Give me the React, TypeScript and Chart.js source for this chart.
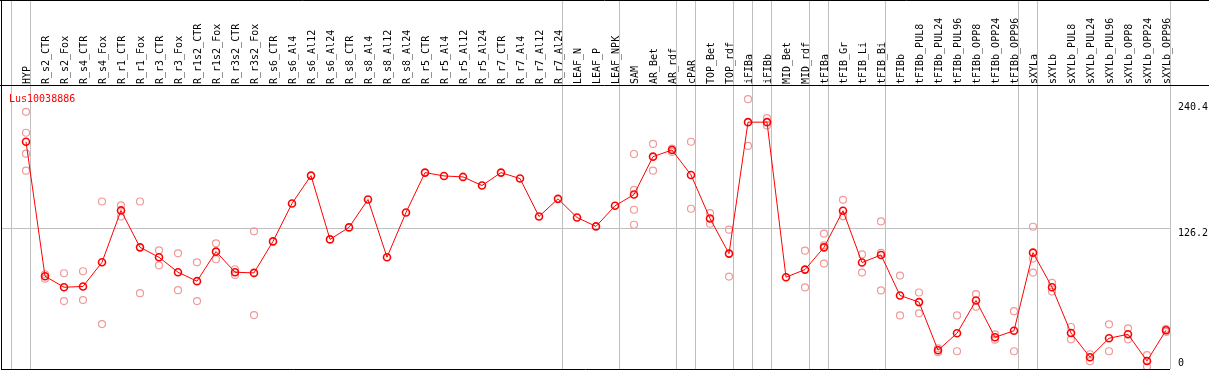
import React, { useEffect, useRef } from 'react';
import { Chart, registerables } from 'chart.js';

Chart.register(...registerables);

const geneName = 'Lus10038886';

const categories = [
  'HYP', 'R_s2_CTR', 'R_s2_Fox', 'R_s4_CTR', 'R_s4_Fox', 'R_r1_CTR', 'R_r1_Fox', 'R_r3_CTR', 'R_r3_Fox',
  'R_r1s2_CTR', 'R_r1s2_Fox', 'R_r3s2_CTR', 'R_r3s2_Fox', 'R_s6_CTR', 'R_s6_Al4', 'R_s6_Al12', 'R_s6_Al24',
  'R_s8_CTR', 'R_s8_Al4', 'R_s8_Al12', 'R_s8_Al24', 'R_r5_CTR', 'R_r5_Al4', 'R_r5_Al12', 'R_r5_Al24',
  'R_r7_CTR', 'R_r7_Al4', 'R_r7_Al12', 'R_r7_Al24', 'LEAF_N', 'LEAF_P', 'LEAF_NPK', 'SAM', 'AR_Bet', 'AR_rdf',
  'cPAR', 'TOP_Bet', 'TOP_rdf', 'iFIBa', 'iFIBb', 'MID_Bet', 'MID_rdf', 'tFIBa', 'tFIB_Gr', 'tFIB_Li', 'tFIB_Bi',
  'tFIBb', 'tFIBb_PUL8', 'tFIBb_PUL24', 'tFIBb_PUL96', 'tFIBb_OPP8', 'tFIBb_OPP24', 'tFIBb_OPP96',
  'sXYLa', 'sXYLb', 'sXYLb_PUL8', 'sXYLb_PUL24', 'sXYLb_PUL96', 'sXYLb_OPP8', 'sXYLb_OPP24', 'sXYLb_OPP96',
];

const meanValues = [
  205.2, 83.2, 73.2, 73.9, 95.8, 142.9, 109.4, 100.4, 86.8,
  78.7, 105.5, 86.8, 86.2, 114.8, 149.2, 174.5, 116.6,
  127.5, 152.8, 100.4, 141.0, 177.2, 174.2, 173.3, 165.5,
  177.2, 171.8, 137.4, 153.4, 136.5, 128.4, 147.1, 157.3, 191.7, 197.7,
  175.1, 135.6, 103.7, 223.0, 223.0, 82.3, 89.2, 109.4, 142.6, 95.6, 102.5,
  65.7, 59.7, 16.0, 31.4, 61.2, 27.8, 33.7,
  104.6, 73.2, 31.6, 9.7, 26.9, 30.5, 6.3, 34.1,
];

const replicateValues: number[][] = [
  [232.4, 213.4, 194.4, 179.0], [85.0, 81.0], [85.9, 60.6], [87.7, 61.5], [151.0, 39.8], [147.4, 137.4],
  [151.0, 67.8], [106.7, 93.1], [104.0, 70.5], [95.8, 60.6], [113.0, 98.6], [89.5, 84.4], [123.9, 47.9],
  [], [], [], [], [], [], [], [], [], [], [], [], [], [], [], [], [], [], [],
  [194.1, 161.6, 143.5, 129.9], [203.2, 179.0], [199.0, 196.0], [205.2, 144.4], [140.4, 130.8],
  [125.4, 82.9], [243.8, 201.4], [226.7, 220.0], [], [106.4, 73.0], [121.8, 111.2, 94.7],
  [152.5, 137.5, 137.8], [103.0, 86.5], [132.9, 104.3, 70.3], [83.8, 47.6], [68.4, 49.5], [17.8, 14.2],
  [47.6, 15.1], [66.9, 55.4], [30.5, 25.6], [51.5, 15.1], [128.1, 99.2, 86.5], [77.1, 69.3], [37.1, 25.9],
  [12.4, 6.1], [39.5, 15.1], [35.9, 25.9], [11.5, 1.2], [35.5, 32.7],
];

const yTickValues = [0, 126.2, 240.4];

// category index after which a group separator line is drawn
const groupEnds = [-1, 0, 28, 31, 34, 35, 37, 38, 39, 41, 42, 45, 52, 53, 60];

const FONT = 'DejaVu Sans Mono';
const W = 1209;
const H = 370;
const PLOT_RIGHT = 1170;
const STEP = 19;
const FIRST_X = 26;
const X_MIN = (1 - FIRST_X) / STEP;
const X_MAX = X_MIN + (PLOT_RIGHT - 1) / STEP;
const SEP_OFFSET = 4 / STEP;

const zeroPadding = (scale: any) => {
  scale.paddingLeft = 0;
  scale.paddingRight = 0;
  scale.paddingTop = 0;
  scale.paddingBottom = 0;
  if (scale._margins) {
    scale._margins.left = 0;
    scale._margins.right = 0;
    scale._margins.top = 0;
    scale._margins.bottom = 0;
  }
};

const framePlugin = {
  id: 'frame',
  beforeDatasetsDraw(chart: any) {
    const { ctx, chartArea, scales } = chart;
    ctx.save();
    ctx.strokeStyle = '#c0c0c0';
    ctx.lineWidth = 1;
    groupEnds.forEach((g) => {
      const px = Math.floor(scales.x.getPixelForValue(g + SEP_OFFSET)) + 0.5;
      ctx.beginPath();
      ctx.moveTo(px, 0);
      ctx.lineTo(px, chartArea.bottom);
      ctx.stroke();
    });
    ctx.restore();
  },
  afterDraw(chart: any) {
    const { ctx, chartArea } = chart;
    ctx.save();
    ctx.strokeStyle = '#000';
    ctx.lineWidth = 1;
    ctx.beginPath();
    ctx.moveTo(0, 0.5);
    ctx.lineTo(W, 0.5);
    ctx.moveTo(0, chartArea.top - 0.5);
    ctx.lineTo(W, chartArea.top - 0.5);
    ctx.moveTo(1.5, 0);
    ctx.lineTo(1.5, chartArea.bottom + 1);
    ctx.moveTo(1, chartArea.bottom + 0.5);
    ctx.lineTo(chartArea.right, chartArea.bottom + 0.5);
    ctx.stroke();
    ctx.fillStyle = '#ff0000';
    ctx.font = `10px "${FONT}"`;
    ctx.textBaseline = 'alphabetic';
    ctx.textAlign = 'left';
    ctx.fillText(geneName, chartArea.left + 8, chartArea.top + 16);
    ctx.restore();
  },
};

export default function App() {
  const ref = useRef<HTMLCanvasElement | null>(null);

  useEffect(() => {
    if (!ref.current) return;
    const meanData = meanValues.map((v, i) => ({ x: i, y: v }));
    const repData: { x: number; y: number }[] = [];
    replicateValues.forEach((reps, i) => reps.forEach((v) => repData.push({ x: i, y: v })));

    const chart = new Chart(ref.current, {
      type: 'line',
      data: {
        datasets: [
          {
            label: geneName,
            data: meanData,
            borderColor: '#ff0000',
            borderWidth: 1,
            pointRadius: 3.5,
            pointBorderWidth: 1.6,
            pointBorderColor: '#ff0000',
            pointBackgroundColor: 'rgba(0,0,0,0)',
            tension: 0,
            order: 0,
          },
          {
            label: 'replicates',
            data: repData,
            showLine: false,
            borderColor: '#f09a9a',
            pointRadius: 3.5,
            pointBorderWidth: 1.2,
            pointBorderColor: '#f09a9a',
            pointBackgroundColor: 'rgba(0,0,0,0)',
            order: 1,
          },
        ],
      },
      options: {
        animation: false,
        responsive: false,
        devicePixelRatio: 1,
        layout: { autoPadding: false, padding: { left: 1, right: 0, top: 0, bottom: 1 } },
        plugins: { legend: { display: false }, tooltip: { enabled: false }, title: { display: false } },
        scales: {
          x: {
            type: 'linear',
            position: 'top',
            min: X_MIN,
            max: X_MAX,
            afterBuildTicks: (scale: any) => {
              scale.ticks = categories.map((_, i) => ({ value: i }));
            },
            afterFit: (scale: any) => {
              scale.height = 86;
              zeroPadding(scale);
            },
            ticks: {
              autoSkip: false,
              minRotation: 90,
              maxRotation: 90,
              padding: 2,
              labelOffset: 11,
              color: '#000',
              font: { family: FONT, size: 10, lineHeight: 1 },
              callback: (v: any) => categories[v] ?? '',
            },
            grid: { display: false, drawTicks: false },
            border: { display: false },
          },
          y: {
            type: 'linear',
            position: 'right',
            min: -1,
            max: 255.8,
            afterBuildTicks: (scale: any) => {
              scale.ticks = yTickValues.map((v) => ({ value: v }));
            },
            afterFit: (scale: any) => {
              scale.width = W - PLOT_RIGHT;
              zeroPadding(scale);
            },
            ticks: {
              padding: 8,
              color: '#000',
              font: { family: FONT, size: 10, lineHeight: 0.9 },
              callback: (v: any) => (v === 0 ? ['0', ''] : ['', String(v)]),
            },
            grid: {
              drawTicks: false,
              color: (c: any) => (c.tick && c.tick.value === 126.2 ? '#c0c0c0' : 'rgba(0,0,0,0)'),
            },
            border: { display: false },
          },
        },
      },
      plugins: [framePlugin],
    });
    return () => chart.destroy();
  }, []);

  return (
    <div style={{ position: 'fixed', left: 0, top: 0, width: W, height: H, background: '#fff' }}>
      <canvas ref={ref} width={W} height={H} style={{ display: 'block', width: W, height: H }} />
    </div>
  );
}
